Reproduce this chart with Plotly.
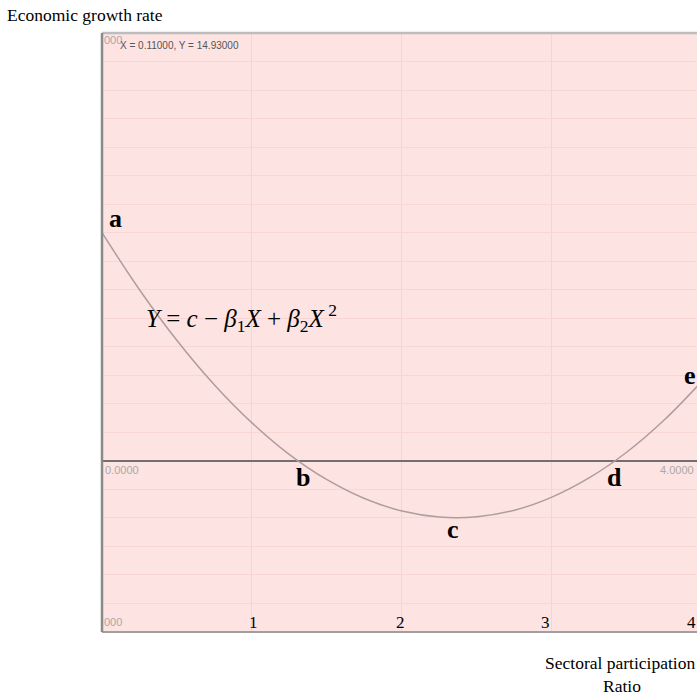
import plotly.graph_objects as go

# --- data ---
ratio = [0.0, 0.25, 0.5, 0.75, 1.0, 1.25, 1.5, 1.75, 2.0, 2.25,
         2.5, 2.75, 3.0, 3.25, 3.5, 3.75, 3.97]
growth = [8.00, 6.00, 4.22, 2.66, 1.33, 0.22, -0.66, -1.32, -1.76, -1.97,
          -1.96, -1.73, -1.27, -0.59, 0.31, 1.44, 2.62]

point_names = ['a', 'b', 'c', 'd', 'e']
point_x = [0.09, 1.34, 2.34, 3.42, 3.92]
point_y = [8.5, -0.6, -2.4, -0.6, 3.0]

tick_text = ['1', '2', '3', '4']
tick_pos = [1.01, 1.99, 2.96, 3.93]

X_RANGE = [0, 3.967]
Y_RANGE = [-6, 15]

SERIF = 'Liberation Serif, Times New Roman, serif'
SANS = 'Liberation Sans, Arial, sans-serif'

fig = go.Figure()
fig.add_trace(go.Scatter(
    x=ratio, y=growth, mode='lines',
    line=dict(color='#ad9e9e', width=1.5, shape='spline'),
    hoverinfo='skip', showlegend=False,
))

# point labels a..e
for name, px, py in zip(point_names, point_x, point_y):
    fig.add_annotation(x=px, y=py, text='<b>%s</b>' % name, showarrow=False,
                       font=dict(family=SERIF, size=26, color='black'))

# equation
fig.add_annotation(
    x=0.93, y=5.0, showarrow=False,
    text='<i>Y</i> = <i>c</i> − <i>β</i><sub>1</sub><i>X</i> + <i>β</i><sub>2</sub><i>X</i><sup> 2</sup>',
    font=dict(family=SERIF, size=25, color='black'))

# x tick labels drawn inside the plot, just above the bottom edge
for t, p in zip(tick_text, tick_pos):
    fig.add_annotation(x=p, y=Y_RANGE[0], yanchor='bottom', text=t, showarrow=False,
                       yshift=-2, font=dict(family=SERIF, size=17, color='black'))

# grapher readouts (gray, partly clipped)
gray = dict(family=SANS, size=11, color='#a9a9a9')
fig.add_annotation(x=0, y=0, xanchor='left', yanchor='top', text='0.0000',
                   showarrow=False, xshift=1, yshift=-1, font=gray)
fig.add_annotation(xref='paper', x=1.0, y=0, xanchor='right', yanchor='top', text='4.0000',
                   showarrow=False, xshift=-1, yshift=-1, font=gray)
fig.add_annotation(x=0, y=Y_RANGE[1], xanchor='left', yanchor='top', text='000',
                   showarrow=False, xshift=0, yshift=1, font=gray)
fig.add_annotation(x=0, y=Y_RANGE[0], xanchor='left', yanchor='bottom', text='000',
                   showarrow=False, xshift=0, yshift=2, font=gray)
fig.add_annotation(x=0, y=Y_RANGE[1], xanchor='left', yanchor='top',
                   text='X = 0.11000, Y = 14.93000', showarrow=False,
                   xshift=16, yshift=-5, font=dict(family=SANS, size=10, color='#555555'))

# axis titles
fig.add_annotation(xref='paper', yref='paper', x=-0.163, y=1.0, xanchor='left',
                   yanchor='bottom', text='Economic growth rate', showarrow=False,
                   yshift=6, font=dict(family=SERIF, size=17.5, color='black'))
fig.add_annotation(xref='paper', yref='paper', x=1.0, y=0, xanchor='right',
                   yanchor='top', text='Sectoral participation', showarrow=False,
                   yshift=-19, font=dict(family=SERIF, size=17.5, color='black'))
fig.add_annotation(xref='paper', yref='paper', x=0.874, y=0, xanchor='center',
                   yanchor='top', text='Ratio', showarrow=False,
                   yshift=-42, font=dict(family=SERIF, size=17.5, color='black'))

# frame
fig.add_shape(type='line', xref='paper', yref='paper', x0=0, x1=1, y0=1, y1=1,
              line=dict(color='#bdbdbd', width=2.5))
fig.add_shape(type='line', xref='paper', yref='paper', x0=0, x1=1, y0=0, y1=0,
              line=dict(color='#a0a0a0', width=2))
fig.add_shape(type='line', xref='paper', yref='paper', x0=0, x1=0, y0=0, y1=1,
              line=dict(color='#8a8a8a', width=2.5))

fig.update_xaxes(range=X_RANGE, dtick=1, showticklabels=False, ticks='',
                 showgrid=True, gridcolor='#f4d4d4', gridwidth=1,
                 zeroline=False, showline=False)
fig.update_yaxes(range=Y_RANGE, dtick=1, showticklabels=False, ticks='',
                 showgrid=True, gridcolor='#f7d6d4', gridwidth=1,
                 zeroline=True, zerolinecolor='#707070', zerolinewidth=2,
                 showline=False)

fig.update_layout(
    width=697, height=696,
    margin=dict(l=102, r=0, t=33, b=64),
    plot_bgcolor='#fde3e1',
    paper_bgcolor='white',
    showlegend=False,
)

# drop the default page margin so the figure fills the window exactly
fig.write_html("out.html", config={'displayModeBar': False},
               post_script="document.body.style.margin='0';document.body.style.overflow='hidden';")
